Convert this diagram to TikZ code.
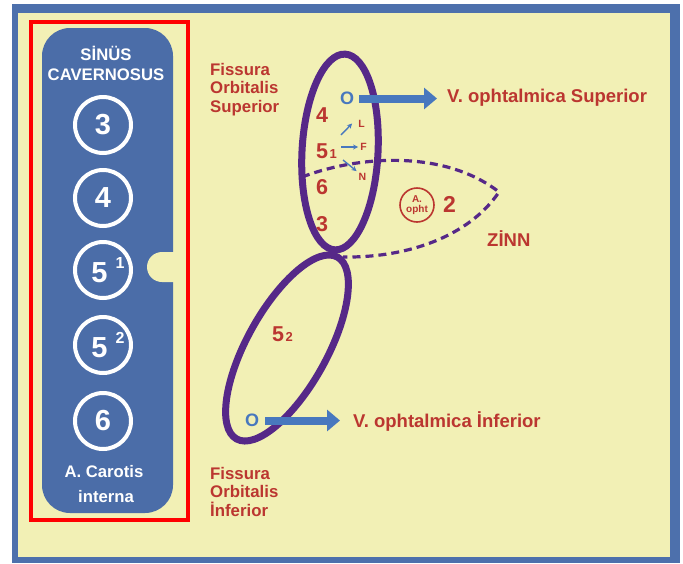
\documentclass[tikz,border=0pt]{standalone}
\usepackage{fontspec}
\setmainfont{Liberation Sans}
\usetikzlibrary{arrows.meta}

\definecolor{bgyellow}{RGB}{242,240,181}
\definecolor{frameblue}{RGB}{77,112,172}
\definecolor{panelblue}{RGB}{75,109,168}
\definecolor{labelred}{RGB}{187,54,48}
\definecolor{fisviolet}{RGB}{86,40,136}
\definecolor{veinblue}{RGB}{72,120,190}

\newcommand{\fsz}[2]{\fontsize{#1}{#2}\selectfont}
\newcommand{\supnum}[1]{\hspace{8pt}\raisebox{14pt}{\fsz{16}{16}#1}}
\newcommand{\subnum}[1]{\hspace{1.5pt}{\fsz{13}{13}#1}}

\begin{document}
\begin{tikzpicture}[x=1pt,y=-1pt,
  ring/.style={circle, draw=white, line width=4pt, minimum size=56pt,
    inner sep=0pt, text=white, font=\bfseries\fsz{29}{29}},
  paneltext/.style={anchor=base, inner sep=0pt, text=white,
    font=\bfseries\fsz{16.7}{20}},
  redtext/.style={anchor=base west, inner sep=0pt, text=labelred,
    font=\bfseries\fsz{18.5}{18.5}},
  fistext/.style={anchor=north west, align=left, inner sep=0pt,
    text=labelred, font=\bfseries\fsz{16.8}{18.5}},
  bignum/.style={anchor=base west, inner sep=0pt, text=labelred,
    font=\bfseries\fsz{21.5}{21.5}},
  nervetext/.style={inner sep=0pt, text=labelred, font=\bfseries\fsz{10.5}{10.5}},
  otext/.style={inner sep=0pt, text=veinblue, font=\bfseries\fsz{18}{18}},
  aring/.style={circle, draw=labelred, line width=1.6pt, minimum size=34pt,
    inner sep=0pt, align=center, text=labelred, font=\bfseries\fsz{10}{10.5}},
  fissure/.style={draw=fisviolet, line width=7pt},
  zinnline/.style={draw=fisviolet, line width=3.2pt, dash pattern=on 8pt off 5pt},
  veinarrow/.style={draw=veinblue, line width=8pt, -{Triangle[width=21pt,length=13pt]}},
  nervearrow/.style={draw=veinblue, line width=1.4pt, -{Stealth[width=5pt,length=5pt]}}
]

\useasboundingbox (0,0) rectangle (683,563);

% frame
\fill[white] (0,0) rectangle (683,563);
\fill[frameblue] (12,4) rectangle (680,563);
\fill[bgyellow] (18,13) rectangle (670,557);

% left panel
{
\fill[panelblue, rounded corners=28pt] (42,28) rectangle (173,513);
\fill[bgyellow] (174,252) -- (162,252) arc[start angle=90, end angle=270, radius=15pt] -- (174,282) -- cycle;
\draw[red, line width=4pt] (30.5,21.5) rectangle (188,520);

\node[paneltext] (sinus) at (106,60) {SİNÜS};
\node[paneltext] (cavern) at (106,80) {CAVERNOSUS};

\node[ring] (r3) at (103,125) {3};
\node[ring] (r4) at (103,198) {4};
\node[ring] (r51) at (103,270) {\hspace{10pt}5\supnum{1}};
\node[ring] (r52) at (103,345) {\hspace{10pt}5\supnum{2}};
\node[ring] (r6) at (103,421) {6};

\node[paneltext] (carotis) at (104,477) {A. Carotis};
\node[paneltext] (interna) at (106,502) {interna};
}

% anulus zinn
\draw[zinnline] (302,177) .. controls (360,155) and (445,150) .. (499,192)
  .. controls (470,235) and (410,258) .. (343,257);

% fissures
\draw[fissure, rotate around={-3:(340,152)}] (340,152) ellipse [x radius=38pt, y radius=98pt];
\draw[fissure, rotate around={61:(287,348)}] (287,348) ellipse [x radius=104pt, y radius=40pt];

% nodes
{
\node[fistext] (fisSup) at (210,63) {Fissura\\Orbitalis\\Superior};
\node[fistext] (fisInf) at (210,467) {Fissura\\Orbitalis\\İnferior};

\node[bignum] (n4) at (316,122) {4};
\node[bignum] (n51) at (316,158) {5\subnum{1}};
\node[bignum] (n6) at (316,194) {6};
\node[bignum] (n3) at (316,231) {3};
\node[bignum, font=\bfseries\fsz{23}{23}] (n2) at (443,212) {2};
\node[bignum] (n52) at (272,341) {5\subnum{2}};

\node[nervetext] (nL) at (361.5,123.5) {L};
\node[nervetext] (nF) at (363.5,147) {F};
\node[nervetext] (nN) at (362.5,176.5) {N};

\node[aring] (aopht) at (417,205) {A.\\opht};
\node[redtext] (zinn) at (487,246) {ZİNN};

\node[otext] (oSup) at (347,98.5) {O};
\node[redtext] (vSup) at (447,102) {V. ophtalmica Superior};
\node[otext] (oInf) at (252,420.5) {O};
\node[redtext] (vInf) at (353,427) {V. ophtalmica İnferior};
}

% nerve arrows
\coordinate (lTail) at (341,135);
\coordinate (fTail) at (341,147);
\coordinate (nTail) at (343,160);
\draw[nervearrow] (lTail) -- ([xshift=-6pt]nL.west);
\draw[nervearrow, shorten >=2pt] (fTail) -- (fTail -| nF.west);
\draw[nervearrow, shorten >=2.5pt] (nTail) -- (nN.north west);

% veins
\draw[veinarrow, shorten <=5pt, shorten >=10pt] (oSup) -- (oSup -| vSup.west);
\draw[veinarrow, shorten <=6pt, shorten >=13pt] (oInf) -- (oInf -| vInf.west);

\end{tikzpicture}
\end{document}
